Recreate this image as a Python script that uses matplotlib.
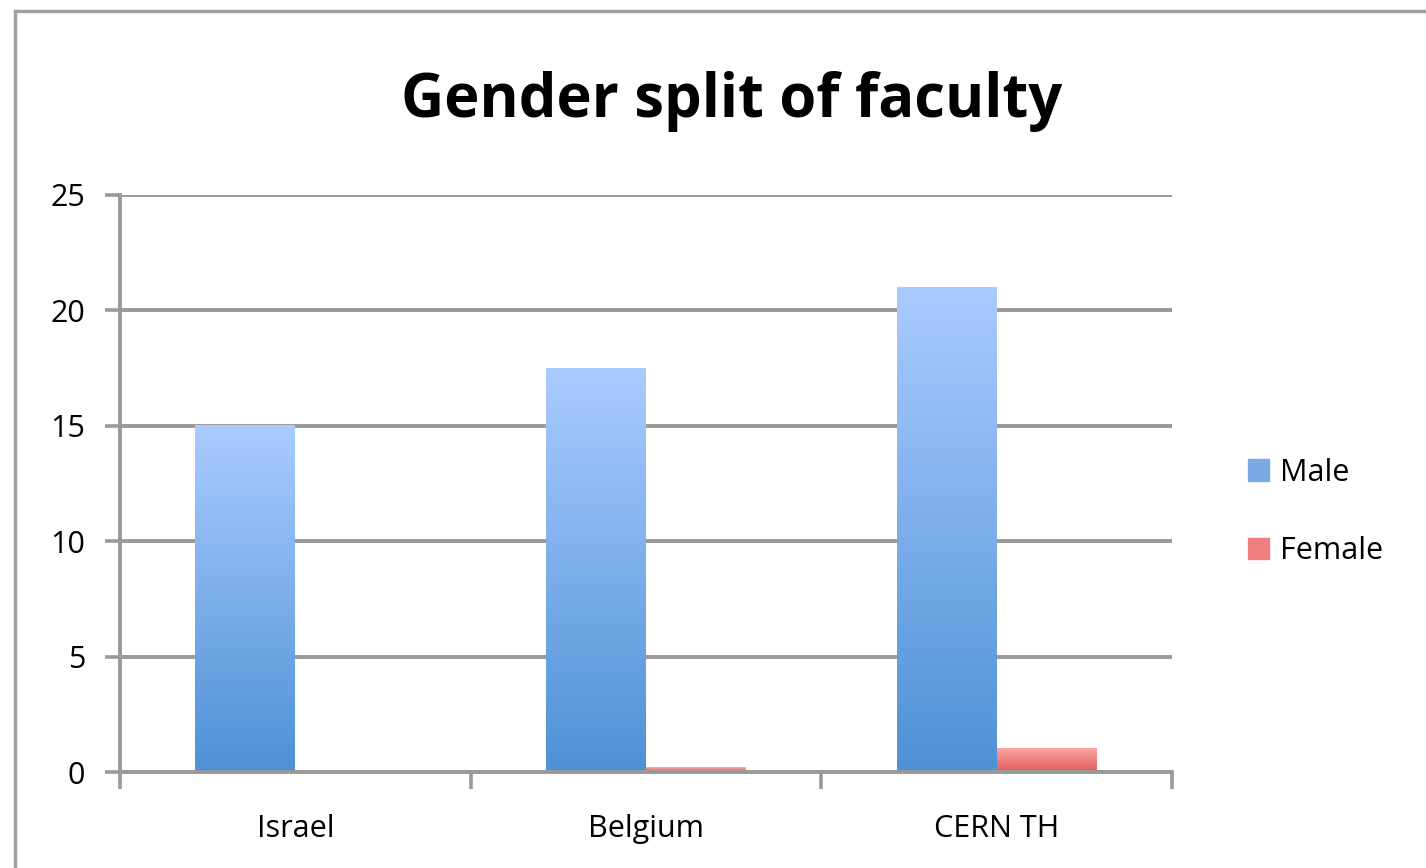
import numpy as np
import matplotlib.pyplot as plt
from matplotlib.patches import Rectangle
from matplotlib.colors import LinearSegmentedColormap

# Données
categories = ['Israel', 'Belgium', 'CERN TH']
male = [15, 17.5, 21]
female = [0, 0.2, 1]
yticks = [0, 5, 10, 15, 20, 25]

plt.rcParams['font.family'] = ['Open Sans', 'DejaVu Sans']

fig = plt.figure(figsize=(14.26, 8.68), dpi=100)
W, H = 1426, 868
ax = fig.add_axes([120 / W, 1 - 772 / H, (1172 - 120) / W, (772 - 195) / H])

# Cadre extérieur
fig.patches.append(Rectangle((15 / W, -0.1), 1.2, 1 - 11 / H + 0.1,
                             transform=fig.transFigure, fill=False,
                             edgecolor='#a0a0a0', linewidth=2.5, clip_on=False))

x = np.arange(len(categories))
width = 0.285
blue = LinearSegmentedColormap.from_list('b', ['#4e91d6', '#aacbff'])
red = LinearSegmentedColormap.from_list('r', ['#de5c5c', '#ffa6a6'])

grad = np.linspace(0, 1, 256).reshape(-1, 1)

def gradient_bars(bars, cmap):
    for b in bars:
        h = b.get_height()
        if h <= 0:
            continue
        x0 = b.get_x()
        ax.imshow(grad, extent=[x0, x0 + b.get_width(), 0, h], origin='lower',
                  cmap=cmap, aspect='auto', zorder=3)
        b.set_visible(False)

bm = ax.bar(x - width / 2, male, width, color='#7aaae6', label='Male', zorder=3)
bf = ax.bar(x + width / 2, female, width, color='#f08080', label='Female', zorder=3)
gradient_bars(bm, blue)
gradient_bars(bf, red)

ax.set_xlim(-0.5, 2.5)
ax.set_ylim(0, 25)
ax.set_yticks(yticks)
ax.set_xticks(x)
ax.set_xticklabels(categories)
ax.tick_params(axis='x', length=0, labelsize=22, pad=30)
ax.tick_params(axis='y', length=11, width=2.6, color='#999999', labelsize=22, pad=14)
ax.set_xticks([-0.5, 0.5, 1.5, 2.5], minor=True)
ax.tick_params(axis='x', which='minor', length=12, width=2.6, color='#999999', direction='out')

ax.grid(axis='y', color='#999999', linewidth=2.8, zorder=0)
ax.set_axisbelow(True)
for s in ['top', 'right']:
    ax.spines[s].set_visible(False)
for s in ['left', 'bottom']:
    ax.spines[s].set_color('#999999')
    ax.spines[s].set_linewidth(2.8)
ax.spines['bottom'].set_zorder(4)

fig.text(732 / W, 1 - 102 / H, 'Gender split of faculty', ha='center', va='center',
         fontsize=43, fontweight='bold')

# Légende
handles = [Rectangle((0, 0), 1, 1, color='#7aaae6'), Rectangle((0, 0), 1, 1, color='#f08080')]
fig.legend(handles, ['Male', 'Female'], loc='center left',
           bbox_to_anchor=(1220 / W, 1 - 512 / H), frameon=False, fontsize=22,
           handlelength=0.7, handleheight=0.7, handletextpad=0.35, labelspacing=1.6)

fig.savefig('out.png', dpi=100)
